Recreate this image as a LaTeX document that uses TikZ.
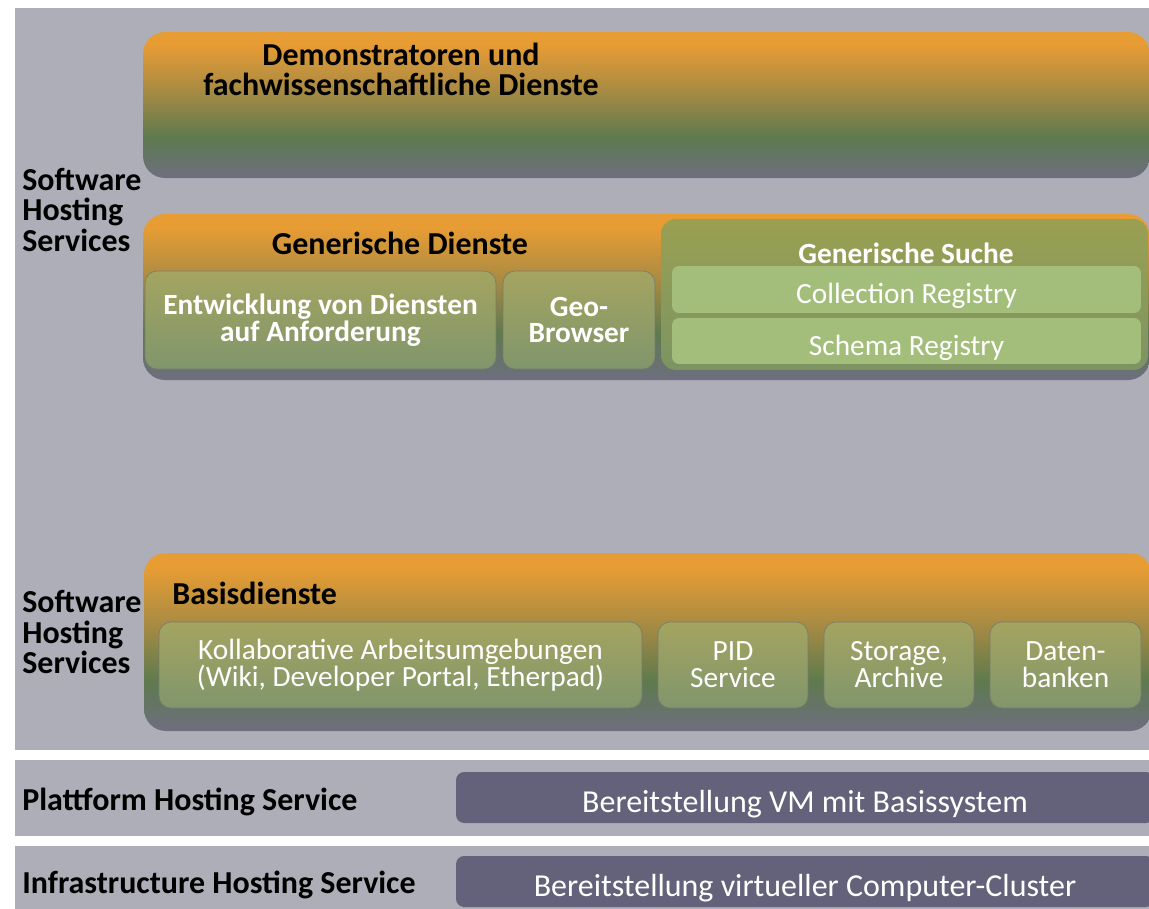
\documentclass[tikz,border=0pt]{standalone}
\usepackage{fontspec}
\setmainfont{Carlito}
\usepackage{xcolor}
\usepackage{tikz}

\definecolor{panel}{RGB}{174,174,184}
\definecolor{vmbox}{RGB}{99,98,122}
\definecolor{lorange}{RGB}{232,156,52}
\definecolor{lbrown}{RGB}{172,140,66}
\definecolor{lgreen}{RGB}{94,122,78}
\definecolor{lgrey}{RGB}{110,110,128}
\definecolor{itop}{RGB}{164,164,96}
\definecolor{ibot}{RGB}{128,150,108}
\definecolor{suchetop}{RGB}{154,160,82}
\definecolor{suchebot}{RGB}{124,148,99}
\definecolor{regfill}{RGB}{163,190,123}
\definecolor{iline}{RGB}{120,124,108}

\pgfdeclareverticalshading{layershade}{100bp}{color(0bp)=(lgrey); color(25bp)=(lgrey); color(39bp)=(lgreen); color(56bp)=(lbrown); color(71bp)=(lorange); color(100bp)=(lorange)}

\tikzset{
  layer/.style={shading=layershade, rounded corners=0.44cm},
  inbox/.style={top color=itop, bottom color=ibot, draw=iline, line width=0.4pt, rounded corners=0.24cm, inner sep=0pt, text=white, align=center, font=\fontsize{16.7}{15.3}\selectfont},
  inbold/.style={inbox, font=\bfseries\fontsize{16.7}{15.3}\selectfont},
  suchebox/.style={top color=suchetop, bottom color=suchebot, rounded corners=0.3cm, inner sep=0pt},
  regbox/.style={fill=regfill, rounded corners=0.14cm, inner sep=0pt, text height=16pt, text depth=0pt, text=white, font=\fontsize{16.7}{15.3}\selectfont},
  vmstyle/.style={fill=vmbox, rounded corners=0.16cm, inner sep=0pt, text height=17pt, text depth=0pt, text=white, font=\fontsize{18.2}{17.3}\selectfont},
  head/.style={inner sep=0pt, align=center, font=\bfseries\fontsize{18.2}{17.1}\selectfont},
  sidehead/.style={head, anchor=west, align=left, font=\bfseries\fontsize{18.2}{17.3}\selectfont}
}

\begin{document}
\begin{tikzpicture}[x=0.02cm,y=-0.02cm]
\useasboundingbox (0,0) rectangle (1149,909);
\clip (0,0) rectangle (1149,909);
\fill [white] (0,0) rectangle (1149,909);
\fill [panel] (15,8) rectangle (1149,750);
\fill [panel] (15,760) rectangle (1149,836);
\fill [panel] (15,846) rectangle (1149,909);

\path [layer] (143,32) rectangle (1150,178);
\node [head] (demo) at (401,69) {Demonstratoren und\\fachwissenschaftliche Dienste};
\node [sidehead] (shs1) at (22,210) {Software\\Hosting\\Services};

\path [layer] (143,214) rectangle (1150,380);
\node [head] (gendienste) at (400,243) {Generische Dienste};
\node [inbold, minimum width=7.02cm, minimum height=1.96cm] (entw) at (320.5,320) {Entwicklung von Diensten\\auf Anforderung};
\node [inbold, minimum width=3.04cm, minimum height=1.96cm] (geo) at (579,320) {Geo-\\Browser};
\node [suchebox, minimum width=9.74cm, minimum height=3.02cm] (suche) at (904.5,294.5) {};
\node [head, text=white, font=\bfseries\fontsize{16.7}{15.3}\selectfont] (suchetitle) at (906,253) {Generische Suche};
\node [regbox, minimum width=9.38cm, minimum height=0.94cm] (colreg) at (906.5,289.5) {Collection Registry};
\node [regbox, minimum width=9.38cm, minimum height=0.92cm] (schreg) at (906.5,341) {Schema Registry};

\path [layer] (144,553) rectangle (1152,731);
\node [sidehead] (shs2) at (22,632) {Software\\Hosting\\Services};
\node [head, anchor=west] (basis) at (172,593) {Basisdienste};
\node [inbox, minimum width=9.66cm, minimum height=1.72cm] (kollab) at (400.5,665) {Kollaborative Arbeitsumgebungen\\(Wiki, Developer Portal, Etherpad)};
\node [inbox, minimum width=3cm, minimum height=1.72cm] (pid) at (733,665) {PID\\Service};
\node [inbox, minimum width=3cm, minimum height=1.72cm] (storage) at (899,665) {Storage,\\Archive};
\node [inbox, minimum width=3.02cm, minimum height=1.72cm] (daten) at (1065.5,665) {Daten-\\banken};

\node [sidehead] (phs) at (22,802) {Plattform Hosting Service};
\node [vmstyle, minimum width=13.96cm, minimum height=1.02cm] (vm) at (805,797.5) {Bereitstellung VM mit Basissystem};

\node [sidehead] (ihs) at (22,885) {Infrastructure Hosting Service};
\node [vmstyle, minimum width=13.96cm, minimum height=1.02cm] (cluster) at (805,881.5) {Bereitstellung virtueller Computer-Cluster};
\end{tikzpicture}
\end{document}
